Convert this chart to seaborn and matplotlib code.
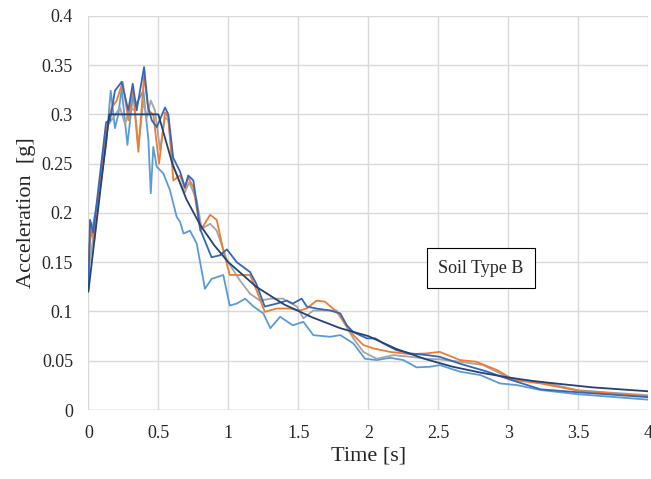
import pandas as pd
import numpy as np
import matplotlib
matplotlib.use("Agg")
import matplotlib.pyplot as plt
import seaborn as sns

# design spectrum (soil B)
t_design = [0, 0.15, 0.5, 0.6, 0.7, 0.8, 0.9, 1.0, 1.2, 1.4, 1.6, 1.8, 2.0,
            2.2, 2.4, 2.6, 2.8, 3.0, 3.2, 3.4, 3.6, 3.8, 4.0]
sa_design = [0.12, 0.30, 0.30, 0.25, 0.214, 0.1875, 0.167, 0.15, 0.125, 0.107,
             0.094, 0.083, 0.075, 0.062, 0.052, 0.044, 0.038, 0.033, 0.029,
             0.026, 0.023, 0.021, 0.019]

# record 1 (blue)
t_blue = [0, 0.012, 0.035, 0.084, 0.127, 0.155, 0.19, 0.238, 0.285, 0.317,
          0.345, 0.398, 0.427, 0.453, 0.489, 0.548, 0.571, 0.606, 0.655, 0.69,
          0.713, 0.75, 0.80, 0.88, 0.94, 0.99, 1.06, 1.155, 1.2, 1.26, 1.346,
          1.417, 1.46, 1.524, 1.56, 1.63, 1.726, 1.80, 1.846, 1.893, 1.99,
          2.05, 2.107, 2.20, 2.30, 2.42, 2.51, 2.655, 2.85, 3.01, 3.23, 3.5, 4.0]
sa_blue = [0.122, 0.193, 0.18, 0.24, 0.292, 0.294, 0.324, 0.333, 0.304, 0.331,
           0.304, 0.348, 0.307, 0.294, 0.287, 0.307, 0.30, 0.256, 0.242, 0.226,
           0.238, 0.233, 0.183, 0.155, 0.157, 0.163, 0.150, 0.140, 0.128, 0.105,
           0.108, 0.111, 0.108, 0.113, 0.105, 0.103, 0.101, 0.098, 0.086, 0.079,
           0.0727, 0.0727, 0.0676, 0.0608, 0.0575, 0.0557, 0.054, 0.047, 0.0389,
           0.031, 0.021, 0.018, 0.013]

# record 2 (orange)
t_orange = [0, 0.02, 0.04, 0.1, 0.13, 0.167, 0.203, 0.245, 0.286, 0.317,
            0.357, 0.398, 0.429, 0.464, 0.505, 0.548, 0.571, 0.607, 0.655,
            0.69, 0.714, 0.75, 0.80, 0.87, 0.917, 0.964, 1.01, 1.08, 1.155,
            1.2, 1.26, 1.346, 1.44, 1.51, 1.56, 1.63, 1.69, 1.774, 1.893,
            1.964, 2.036, 2.155, 2.30, 2.42, 2.51, 2.655, 2.77, 2.92, 3.04,
            3.23, 3.5, 4.0]
sa_orange = [0.15, 0.19, 0.17, 0.25, 0.284, 0.307, 0.314, 0.333, 0.294, 0.328,
             0.262, 0.339, 0.304, 0.30, 0.250, 0.302, 0.297, 0.233, 0.238,
             0.225, 0.236, 0.226, 0.182, 0.198, 0.193, 0.162, 0.137, 0.137,
             0.137, 0.122, 0.0996, 0.103, 0.103, 0.101, 0.103, 0.111, 0.110,
             0.0996, 0.076, 0.066, 0.0625, 0.059, 0.0567, 0.0575, 0.059,
             0.0507, 0.049, 0.0405, 0.0304, 0.027, 0.0196, 0.014]

# record 3 (gray)
t_gray = [0, 0.03, 0.08, 0.13, 0.18, 0.226, 0.262, 0.298, 0.333, 0.357, 0.393,
          0.417, 0.446, 0.476, 0.512, 0.548, 0.571, 0.607, 0.655, 0.69, 0.72,
          0.774, 0.81, 0.87, 0.917, 0.99, 1.08, 1.155, 1.226, 1.30, 1.39, 1.49,
          1.536, 1.607, 1.726, 1.774, 1.893, 1.964, 2.06, 2.18, 2.30, 2.42,
          2.51, 2.655, 2.82, 2.99, 3.08, 3.23, 3.5, 4.0]
sa_gray = [0.14, 0.17, 0.22, 0.287, 0.297, 0.307, 0.29, 0.307, 0.304, 0.267,
           0.314, 0.296, 0.314, 0.304, 0.264, 0.297, 0.294, 0.247, 0.231,
           0.221, 0.231, 0.213, 0.184, 0.189, 0.182, 0.152, 0.132, 0.118,
           0.111, 0.113, 0.113, 0.105, 0.093, 0.101, 0.101, 0.101, 0.0727,
           0.059, 0.052, 0.0557, 0.054, 0.052, 0.0514, 0.049, 0.0456, 0.0338,
           0.0304, 0.0287, 0.020, 0.015]

# record 4 (light blue)
t_light = [0, 0.01, 0.084, 0.127, 0.16, 0.19, 0.214, 0.238, 0.279, 0.317,
           0.345, 0.393, 0.429, 0.446, 0.464, 0.488, 0.536, 0.583, 0.631,
           0.655, 0.68, 0.726, 0.774, 0.833, 0.88, 0.964, 1.01, 1.06, 1.12,
           1.18, 1.25, 1.30, 1.37, 1.46, 1.536, 1.607, 1.726, 1.80, 1.893,
           1.976, 2.06, 2.155, 2.25, 2.345, 2.44, 2.51, 2.655, 2.80, 2.94,
           3.06, 3.23, 3.5, 4.0]
sa_light = [0.125, 0.17, 0.226, 0.27, 0.324, 0.286, 0.30, 0.326, 0.269, 0.318,
            0.311, 0.324, 0.274, 0.22, 0.267, 0.247, 0.24, 0.223, 0.196,
            0.191, 0.179, 0.182, 0.169, 0.123, 0.133, 0.137, 0.106, 0.108,
            0.113, 0.105, 0.098, 0.083, 0.0946, 0.086, 0.0895, 0.076, 0.0743,
            0.076, 0.0676, 0.052, 0.0507, 0.053, 0.0507, 0.0433, 0.0439,
            0.0456, 0.0389, 0.0355, 0.027, 0.0253, 0.0203, 0.016, 0.0105]

series = [("light", t_light, sa_light), ("gray", t_gray, sa_gray),
          ("orange", t_orange, sa_orange), ("blue", t_blue, sa_blue),
          ("design", t_design, sa_design)]
df = pd.concat([pd.DataFrame({"T": t, "Sa": s, "rec": name}) for name, t, s in series],
               ignore_index=True)

palette = {"light": "#5B9BD5", "gray": "#A5A5A5", "orange": "#ED7D31",
           "blue": "#3566B8", "design": "#22427A"}

sns.set_style("white")
plt.rcParams['font.family'] = ['Liberation Serif', 'DejaVu Serif']

fig = plt.figure(figsize=(6.51, 4.79), dpi=100)
ax = fig.add_axes([0.1357, 0.144, 0.8602, 0.823])
sns.lineplot(data=df, x="T", y="Sa", hue="rec", palette=palette, sort=False,
             estimator=None, linewidth=1.3, legend=False, ax=ax)

ax.set_xlim(0, 4)
ax.set_ylim(0, 0.4)
ax.set_xticks(np.arange(0, 4.01, 0.5))
ax.set_yticks(np.arange(0, 0.401, 0.05))
ax.set_xticklabels(["0", "0.5", "1", "1.5", "2", "2.5", "3", "3.5", "4"])
ax.set_yticklabels(["0", "0.05", "0.1", "0.15", "0.2", "0.25", "0.3", "0.35", "0.4"])
ax.tick_params(labelsize=13, length=0, pad=11)
ax.grid(True, color="#D9D9D9", linewidth=1.0)
ax.set_axisbelow(True)
for s in ax.spines.values():
    s.set_visible(False)
ax.axhline(0, color="#BFBFBF", linewidth=1.0, zorder=0.5)

ax.set_xlabel("Time [s]", fontsize=16, labelpad=3)
ax.set_ylabel("Acceleration  [g]", fontsize=16, labelpad=4)

ax.text(2.805, 0.144, "Soil Type B", fontsize=13, ha="center", va="center",
        bbox=dict(boxstyle="square,pad=0.65", facecolor="white",
                  edgecolor="black", linewidth=0.8))

fig.savefig("out.png", dpi=100)
